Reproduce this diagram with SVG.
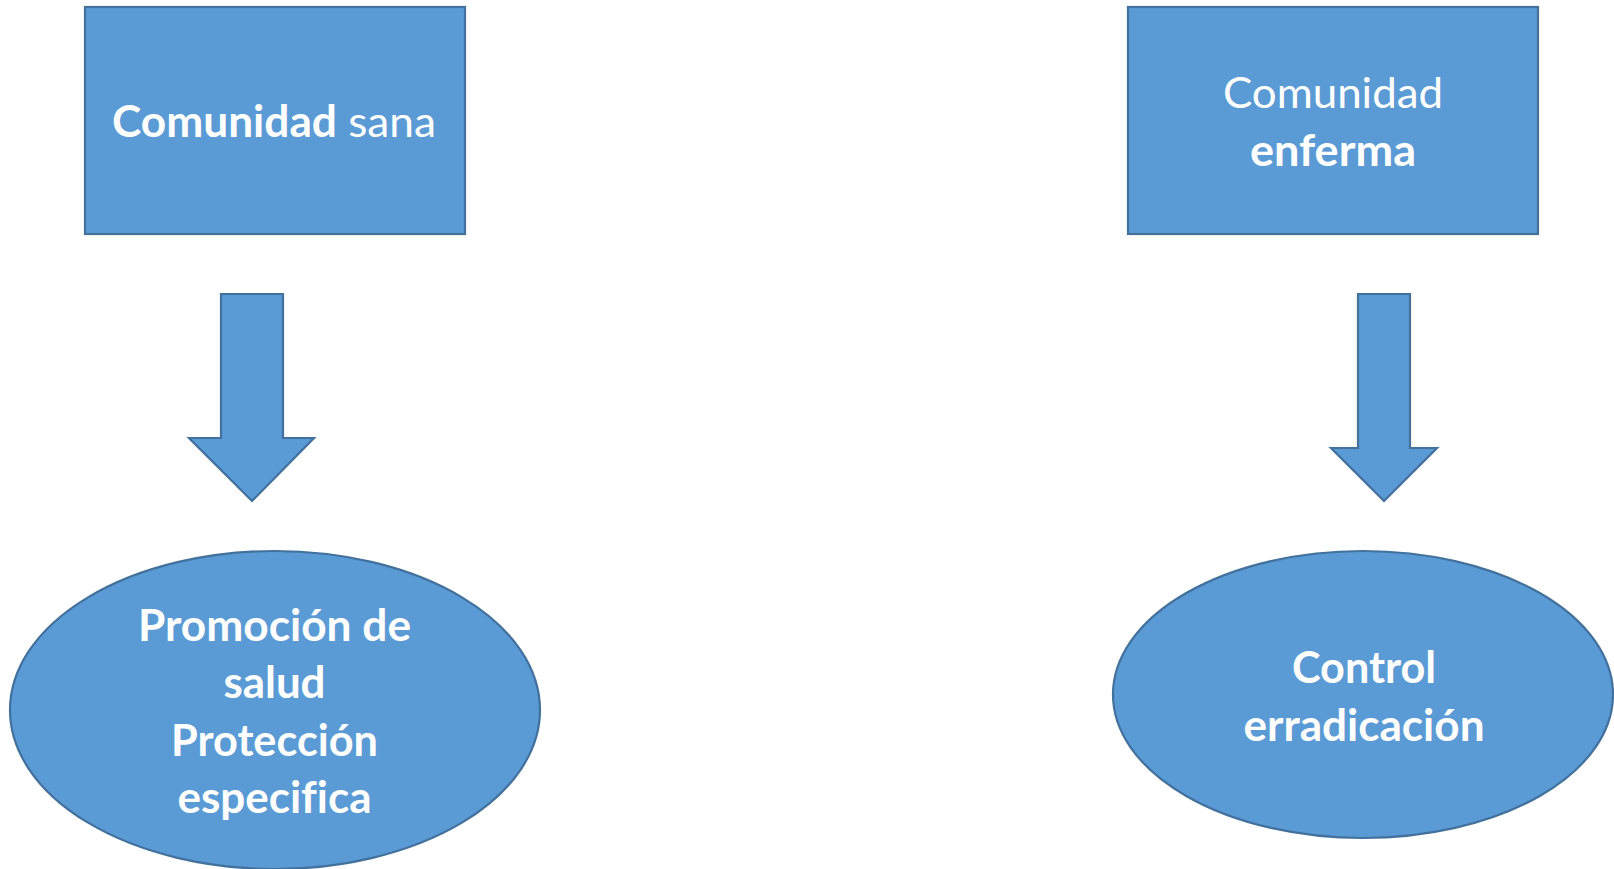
<svg xmlns="http://www.w3.org/2000/svg" width="1614" height="869" viewBox="0 0 1614 869">
<style>
.shape{fill:#5B9BD5;stroke:#41719C;stroke-width:2.2}
.t{fill:#FFFFFF;font-family:Lato,"Liberation Sans",sans-serif;font-size:43px;text-anchor:middle;font-variant-ligatures:none}
.b{font-weight:bold}
.r{font-weight:normal}
</style>
<rect width="1614" height="869" fill="#FFFFFF"/>
<g id="node-sana">
<rect class="shape" x="85" y="7" width="380" height="227"/>
<text class="t" x="274" y="137" textLength="324" lengthAdjust="spacingAndGlyphs"><tspan class="b">Comunidad</tspan><tspan class="r"> sana</tspan></text>
</g>
<g id="node-enferma">
<rect class="shape" x="1128" y="7" width="410" height="227"/>
<text class="t r" x="1333" y="108" textLength="220" lengthAdjust="spacingAndGlyphs">Comunidad</text>
<text class="t b" x="1333" y="166" textLength="166" lengthAdjust="spacingAndGlyphs">enferma</text>
</g>
<g id="node-promocion">
<ellipse class="shape" cx="275" cy="710" rx="265" ry="159"/>
<text class="t b" x="274.5" y="641" textLength="273" lengthAdjust="spacingAndGlyphs">Promoción de</text>
<text class="t b" x="274.5" y="698" textLength="102" lengthAdjust="spacingAndGlyphs">salud</text>
<text class="t b" x="274.5" y="756" textLength="207" lengthAdjust="spacingAndGlyphs">Protección</text>
<text class="t b" x="274.5" y="813" textLength="194" lengthAdjust="spacingAndGlyphs">especifica</text>
</g>
<g id="node-control">
<ellipse class="shape" cx="1363" cy="694.5" rx="250" ry="143.5"/>
<text class="t b" x="1364" y="683" textLength="144" lengthAdjust="spacingAndGlyphs">Control</text>
<text class="t b" x="1364" y="741" textLength="241" lengthAdjust="spacingAndGlyphs">erradicación</text>
</g>
<g id="connectors">
<polygon class="shape" points="221,294 283,294 283,438 314,438 252,501 189,438 221,438"/>
<polygon class="shape" points="1358,294 1410,294 1410,448 1437,448 1384,501 1331,448 1358,448"/>
</g>
</svg>
